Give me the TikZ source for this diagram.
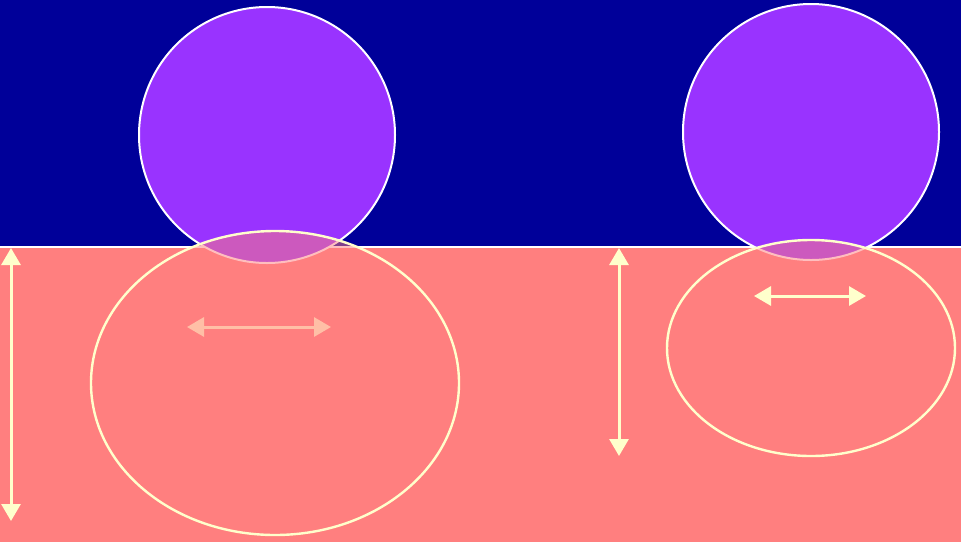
\documentclass[tikz,border=0pt]{standalone}
\usetikzlibrary{shapes.geometric,arrows.meta}
\definecolor{skyblue}{HTML}{000099}
\definecolor{ballpurple}{HTML}{9933FF}
\definecolor{salmon}{HTML}{FF7F7F}
\definecolor{paleyellow}{HTML}{FFFFCC}
\definecolor{fadedyellow}{HTML}{FFBFA6}
\tikzset{
  ball/.style={circle, draw=white, line width=2pt, fill=ballpurple, minimum size=256pt, inner sep=0pt},
  zone/.style={ellipse, draw=paleyellow, line width=2.4pt, fill=salmon, fill opacity=0.5, draw opacity=1, inner sep=0pt},
  dimarrow/.style={paleyellow, line width=3pt, {Triangle[width=19pt,length=17pt]}-{Triangle[width=19pt,length=17pt]}},
}
\begin{document}
\begin{tikzpicture}[x=1pt,y=-1pt]
\useasboundingbox (0,0) rectangle (961,542);
\fill[skyblue] (0,0) rectangle (961,247);
\fill[salmon] (0,247) rectangle (961,542);
\draw[white, line width=2pt] (0,247) -- (961,247);
\node[ball] (c1) at (267,135) {};
\node[ball] (c2) at (811,132) {};
\node[zone, minimum width=368pt, minimum height=304pt] (e1) at (275,383) {};
\node[zone, minimum width=288pt, minimum height=216pt] (e2) at (811,348) {};
\coordinate (a1) at (11,248);
\coordinate (b1) at (11,521);
\coordinate (a2) at (619,248);
\coordinate (b2) at (619,456);
\coordinate (a3) at (187,327);
\coordinate (b3) at (331,327);
\coordinate (a4) at (754,296);
\coordinate (b4) at (866,296);
\draw[dimarrow] (a1) -- (b1);
\draw[dimarrow] (a2) -- (b2);
\draw[dimarrow, fadedyellow] (a3) -- (b3);
\draw[dimarrow] (a4) -- (b4);
\end{tikzpicture}
\end{document}
